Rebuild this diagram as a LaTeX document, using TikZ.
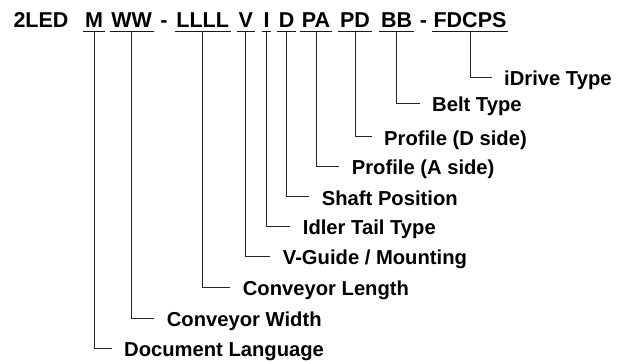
\documentclass[tikz,border=0pt]{standalone}
\usepackage{fontspec}
\setmainfont{Liberation Sans}
\begin{document}
\begin{tikzpicture}[x=1pt,y=-1pt,
  code/.style={font=\fontsize{21.5}{21.5}\selectfont\bfseries, inner xsep=1.5pt, inner ysep=4pt, anchor=base, text depth=0pt},
  plain/.style={font=\fontsize{21.5}{21.5}\selectfont\bfseries, inner sep=0pt, anchor=base west},
  lbl/.style={font=\fontsize{20.2}{20.2}\selectfont\bfseries, inner xsep=12.5pt, inner ysep=0pt, text height=16.8pt, text depth=0pt, anchor=base west},
  uline/.style={line width=0.9pt, draw=black!90},
  conn/.style={line width=0.9pt, draw=black!85}]
\useasboundingbox (0,0) rectangle (631,362);
% header
\node[plain] (pre) at (13.3,27.5) {2LED};
\node[code] (M) at (94,27.5) {M};
\node[code] (W) at (131.7,27.5) {WW};
\node[plain, anchor=base] (d1) at (164,27.5) {-};
\node[code] (L) at (202.7,27.5) {LLLL};
\node[code] (V) at (245.7,27.5) {V};
\node[code] (I) at (266.7,27.5) {I};
\node[code] (D) at (286.7,27.5) {D};
\node[code] (PA) at (316,27.5) {PA};
\node[code] (PD) at (355,27.5) {PD};
\node[code] (BB) at (396.7,27.5) {BB};
\node[plain, anchor=base] (d2) at (423.5,27.5) {-};
\node[code] (F) at (470,27.5) {FDCPS};
\foreach \n in {M,W,L,V,I,D,PA,PD,BB,F}
  \draw[uline] (\n.south west) -- (\n.south east);
% labels
\node[lbl] (tF) at (491.5,85.4) {iDrive Type};
\node[lbl] (tBB) at (419.5,111.7) {Belt Type};
\node[lbl] (tPD) at (371.5,145.1) {Profile (D side)};
\node[lbl] (tPA) at (339.2,174.4) {Profile (A side)};
\node[lbl] (tD) at (309.2,205.1) {Shaft Position};
\node[lbl] (tI) at (290.2,234.4) {Idler Tail Type};
\node[lbl] (tV) at (270.2,264.4) {V-Guide / Mounting};
\node[lbl] (tL) at (230.2,295.7) {Conveyor Length};
\node[lbl] (tW) at (154.2,326.7) {Conveyor Width};
\node[lbl] (tM) at (111.5,356.7) {Document Language};
% connectors
\foreach \n in {M,W,L,V,I,D,PA,PD,BB,F}
  \draw[conn] (\n.south) |- (t\n.west);
\end{tikzpicture}
\end{document}
